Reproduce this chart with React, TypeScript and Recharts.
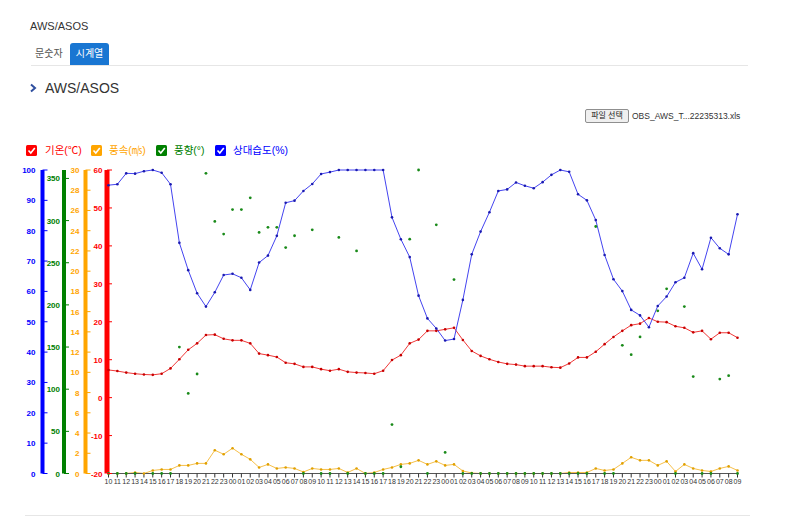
import React from "react";
import { ComposedChart, Line, XAxis, YAxis } from "recharts";

const hours = [
  "10","11","12","13","14","15","16","17","18","19","20","21","22","23",
  "00","01","02","03","04","05","06","07","08","09","10","11","12","13","14","15","16","17","18","19","20","21","22","23",
  "00","01","02","03","04","05","06","07","08","09","10","11","12","13","14","15","16","17","18","19","20","21","22","23",
  "00","01","02","03","04","05","06","07","08","09",
];

const temperature = [
  7.3,7.0,6.6,6.3,6.1,6.0,6.3,7.7,10.1,12.6,
  14.3,16.5,16.6,15.5,15.1,15.1,14.3,11.6,11.2,10.7,
  9.2,8.9,8.1,8.1,7.5,7.1,7.5,6.8,6.6,6.5,
  6.3,7.1,9.9,11.2,14.3,15.3,17.6,17.6,18.0,18.4,
  15.2,12.3,11.0,10.1,9.4,8.9,8.7,8.3,8.3,8.3,
  8.0,7.9,9.0,10.6,10.6,12.1,14.1,16.0,17.6,19.1,
  19.5,21.0,20.0,19.9,18.8,18.4,17.2,17.6,15.4,17.1,
  17.1,15.8,
];

const windSpeed = [
  0,0,0,0.1,0,0.3,0.4,0.4,0.8,0.8,
  1.0,1.0,2.3,1.9,2.5,1.9,1.4,0.6,0.9,0.5,
  0.6,0.5,0.15,0.5,0.4,0.4,0.5,0.1,0.5,0,
  0.1,0.4,0.6,0.9,1.0,1.3,0.9,1.2,0.8,0.9,
  0.25,0.05,0,0,0,0,0,0,0,0,
  0,0,0.1,0.1,0.1,0.5,0.3,0.4,1.0,1.6,
  1.3,1.3,0.8,1.2,0.2,0.9,0.5,0.3,0.2,0.5,
  0.7,0.3,
];

const windDir: (number | null)[] = [
  0,0,0,0,null,0,0,0,150,95,
  118,356,299,284,313,313,327,286,292,292,
  268,282,0,289,0,0,280,0,264,0,
  0,0,58,8,278,360,0,295,25,230,
  0,0,0,0,0,0,0,0,0,0,
  0,0,0,0,0,293,0,0,152,141,
  162,null,193,219,0,198,115,0,0,112,
  116,0,
];

const humidity = [
  95.0,95.3,98.9,98.8,99.6,100,99.1,95.3,76.0,67.0,
  59.4,55.0,59.7,65.4,65.8,64.5,60.5,69.5,71.8,78.3,
  89.2,89.9,93.1,95.4,98.7,99.3,100,100,100,100,
  100,100,84.4,77.2,71.3,58.6,51.1,47.8,43.8,44.3,
  57.2,72.2,79.7,86.1,93.1,93.6,95.9,94.8,94.0,96.0,
  98.4,100,99.4,92.0,90.0,83.5,72.0,64.0,60.1,53.9,
  52.1,48.2,55.2,58.3,63.0,64.5,72.6,67.3,77.7,74.2,
  72.2,85.4,
];

const tempTicks = [-20,-10,0,10,20,30,40,50,60];
const windTicks = [0,2,4,6,8,10,12,14,16,18,20,22,24,26,28,30];
const dirTicks = [0,50,100,150,200,250,300,350];
const humTicks = [0,10,20,30,40,50,60,70,80,90,100];

const data = hours.map((h, i) => ({
  idx: i,
  hour: h,
  temp: temperature[i],
  wind: windSpeed[i],
  dir: windDir[i],
  hum: humidity[i],
}));
const xTicks = data.map((d) => d.idx);

const RED = "#ff0000";
const ORANGE = "#ffa500";
const GREEN = "#008000";
const BLUE = "#0000ff";

const FONT = '"Liberation Sans", Arial, "Noto Sans CJK KR", sans-serif';

const makeTick = (color: string, margin: number) => (props: any) => {
  const { x, y, payload } = props;
  const lineX = x + margin;
  return (
    <g>
      <line x1={lineX} x2={lineX + 5} y1={y} y2={y} stroke={color} strokeWidth={1} />
      <text x={x} y={y} dy={3} textAnchor="end" fill={color} fontSize={8} fontWeight="bold" fontFamily={FONT}>
        {payload.value}
      </text>
    </g>
  );
};

const legendItems = [
  { label: "기온(℃)", color: RED, x: 26, tx: 45 },
  { label: "풍속(㎧)", color: ORANGE, x: 91, tx: 109 },
  { label: "풍향(°)", color: GREEN, x: 156, tx: 174 },
  { label: "상대습도(%)", color: BLUE, x: 215, tx: 233 },
];

function Check({ color, x }: { color: string; x: number }) {
  return (
    <svg style={{ position: "absolute", left: x, top: 145 }} width={11} height={11}>
      <rect x={0} y={0} width={11} height={11} rx={1.5} fill={color} />
      <polyline points="2.5,5.5 4.8,8 8.8,3" fill="none" stroke="#fff" strokeWidth={1.6} />
    </svg>
  );
}

export default function App() {
  return (
    <div style={{ position: "absolute", left: 0, top: 0, width: 809, height: 528, background: "#fff", fontFamily: FONT, overflow: "hidden" }}>
      <div style={{ position: "absolute", left: 30, top: 19, fontSize: 11, lineHeight: "14px", color: "#333" }}>AWS/ASOS</div>
      <div style={{ position: "absolute", left: 35, top: 47, fontSize: 10, lineHeight: "14px", color: "#555" }}>문숫자</div>
      <div style={{ position: "absolute", left: 70, top: 43, width: 39, height: 22, background: "#1976d2", borderRadius: "3px 3px 0 0", color: "#fff", fontSize: 10, lineHeight: "22px", textAlign: "center" }}>시계열</div>
      <div style={{ position: "absolute", left: 31, top: 65, width: 717, height: 1, background: "#e6e6e6" }} />
      <svg style={{ position: "absolute", left: 29, top: 83 }} width={8} height={10}>
        <polyline points="2,1.5 6,5 2,8.5" fill="none" stroke="#2f4f9f" strokeWidth={2} />
      </svg>
      <div style={{ position: "absolute", left: 45, top: 79, fontSize: 14, lineHeight: "18px", color: "#333" }}>AWS/ASOS</div>
      <div style={{ position: "absolute", left: 585, top: 109, width: 42, height: 12, border: "1px solid #8f8f8f", borderRadius: 2, background: "#efefef", fontSize: 8, lineHeight: "12px", textAlign: "center", color: "#222" }}>파일 선택</div>
      <div style={{ position: "absolute", left: 632, top: 109, fontSize: 8.5, lineHeight: "14px", color: "#333" }}>OBS_AWS_T...22235313.xls</div>

      {legendItems.map((it) => (
        <React.Fragment key={it.label}>
          <Check color={it.color} x={it.x} />
          <div style={{ position: "absolute", left: it.tx, top: 143, fontSize: 10.5, lineHeight: "15px", color: it.color }}>{it.label}</div>
        </React.Fragment>
      ))}

      <div style={{ position: "absolute", left: 25, top: 515, width: 725, height: 1, background: "#e6e6e6" }} />

      <div style={{ position: "absolute", left: 0, top: 0 }}>
        <ComposedChart
          width={809}
          height={528}
          data={data}
          margin={{ top: 170, right: 71.5, bottom: 34.5, left: 22.5 }}
        >
          <XAxis
            dataKey="idx"
            type="number"
            domain={[0, 71]}
            ticks={xTicks}
            tickFormatter={(v: number) => hours[v]}
            interval={0}
            height={20}
            padding={{ left: 1.5, right: 0 }}
            tick={{ fontSize: 7, fill: "#333", fontFamily: FONT }}
            tickSize={4}
            tickMargin={2}
            axisLine={{ stroke: "#555" }}
            tickLine={{ stroke: "#333" }}
          />
          <YAxis yAxisId="a_t" orientation="left" width={21.5} domain={[-20, 60]} ticks={tempTicks} type="number" interval={0}
            axisLine={{ stroke: RED, strokeWidth: 5 }} tickLine={false} tickSize={0} tickMargin={4.5} tick={makeTick(RED, 4.5)} />
          <YAxis yAxisId="b_w" orientation="left" width={21.5} domain={[0, 30]} ticks={windTicks} type="number" interval={0}
            axisLine={{ stroke: ORANGE, strokeWidth: 4 }} tickLine={false} tickSize={0} tickMargin={6} tick={makeTick(ORANGE, 6)} />
          <YAxis yAxisId="c_d" orientation="left" width={21.5} domain={[0, 360]} ticks={dirTicks} type="number" interval={0}
            axisLine={{ stroke: GREEN, strokeWidth: 4 }} tickLine={false} tickSize={0} tickMargin={4} tick={makeTick(GREEN, 4)} />
          <YAxis yAxisId="d_h" orientation="left" width={20} domain={[0, 100]} ticks={humTicks} type="number" interval={0}
            axisLine={{ stroke: BLUE, strokeWidth: 4 }} tickLine={false} tickSize={0} tickMargin={7} tick={makeTick(BLUE, 7)} />

          <Line yAxisId="a_t" dataKey="temp" stroke="#f03838" strokeWidth={1} dot={{ r: 1.3, fill: "#c80000", stroke: "none" }} activeDot={false} isAnimationActive={false} />
          <Line yAxisId="b_w" dataKey="wind" stroke="#f7c04a" strokeWidth={1} dot={{ r: 1.3, fill: "#e0a000", stroke: "none" }} activeDot={false} isAnimationActive={false} />
          <Line yAxisId="c_d" dataKey="dir" stroke="none" dot={{ r: 1.4, fill: "#198a19", stroke: "none" }} activeDot={false} isAnimationActive={false} />
          <Line yAxisId="d_h" dataKey="hum" stroke="#4444f0" strokeWidth={1} dot={{ r: 1.3, fill: "#1a1ab0", stroke: "none" }} activeDot={false} isAnimationActive={false} />
        </ComposedChart>
      </div>
    </div>
  );
}
